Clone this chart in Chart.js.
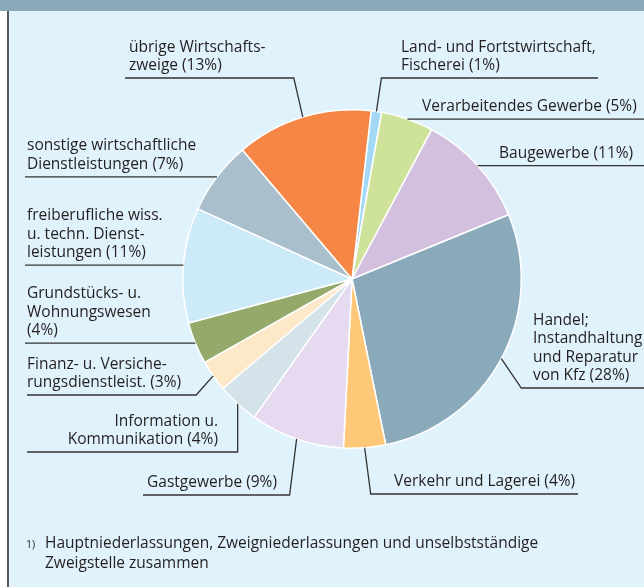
<!DOCTYPE html>
<html>
<head>
<meta charset="utf-8">
<script src="https://cdn.jsdelivr.net/npm/chart.js@4"></script>
<style>
  html, body { margin: 0; padding: 0; background: #fff; }
  #wrap { width: 644px; height: 587px; position: relative; }
</style>
</head>
<body>
<div id="wrap"><canvas id="pieChart" width="644" height="587"></canvas></div>
<script>
// data
const categories = [
  "Land- und Fortstwirtschaft,\nFischerei (1%)",
  "Verarbeitendes Gewerbe (5%)",
  "Baugewerbe (11%)",
  "Handel;\nInstandhaltung\nund Reparatur\nvon Kfz (28%)",
  "Verkehr und Lagerei (4%)",
  "Gastgewerbe (9%)",
  "Information u.\nKommunikation (4%)",
  "Finanz- u. Versiche-\nrungsdienstleist. (3%)",
  "Grundstücks- u.\nWohnungswesen\n(4%)",
  "freiberufliche wiss.\nu. techn. Dienst-\nleistungen (11%)",
  "sonstige wirtschaftliche\nDienstleistungen (7%)",
  "übrige Wirtschafts-\nzweige (13%)"
];
const shares = [1, 5, 11, 28, 4, 9, 4, 3, 4, 11, 7, 13];
const colors = [
  "#a3d9f5", "#cee29a", "#d3c0df", "#8aaabb", "#fec878", "#e5daef",
  "#d4e2ea", "#fde8c8", "#94a96a", "#cdeaf9", "#a9bfcc", "#f58646"
];
const footnote = [
  "Hauptniederlassungen, Zweigniederlassungen und unselbstständige",
  "Zweigstelle zusammen"
];

// label placement: elbow dx from slice edge, y of horizontal rule, rule end, text x
const labelPos = [
  { dx: 5,    y: 78,   x2: 598, tx: 401, align: "left" },
  { dx: null, y: null, x2: 644, tx: 422, align: "left" },
  { dx: null, y: null, x2: 644, tx: 499, align: "left" },
  { dx: 20,   y: 388,  x2: 644, tx: 533, align: "left" },
  { dx: 6,    y: 494,  x2: 578, tx: 394, align: "left" },
  { dx: -7,   y: 495,  x2: 143, tx: 147, align: "left" },
  { dx: 0,    y: 452,  x2: 27,  tx: 218, align: "right" },
  { dx: -17,  y: 395,  x2: 27,  tx: 27,  align: "left" },
  { dx: null, y: null, x2: 25,  tx: 27,  align: "left" },
  { dx: null, y: null, x2: 25,  tx: 27,  align: "left" },
  { dx: null, y: null, x2: 25,  tx: 27,  align: "left" },
  { dx: -9,   y: 78,   x2: 125, tx: 129, align: "left" }
];

const FONT = '15.5px "Open Sans", "Noto Sans", sans-serif';
const TEXT = "#231f20";

const frame = {
  id: "frame",
  beforeDraw(chart) {
    const c = chart.ctx;
    c.save();
    c.fillStyle = "#e0f2fc";
    c.fillRect(8, 0, chart.width - 8, chart.height);
    c.fillStyle = "#8aaabb";
    c.fillRect(0, 0, chart.width, 11);
    c.fillStyle = "#58595b";
    c.fillRect(7, 11, 2, chart.height - 11);
    c.restore();
  },
  afterDraw(chart) {
    const c = chart.ctx;
    const arcs = chart.getDatasetMeta(0).data;
    c.save();
    c.strokeStyle = "#333333";
    c.lineWidth = 1.3;
    c.font = FONT;
    c.fillStyle = TEXT;
    arcs.forEach((arc, i) => {
      const p = labelPos[i];
      const mid = (arc.startAngle + arc.endAngle) / 2;
      const ax = arc.x + Math.cos(mid) * arc.outerRadius;
      const ay = arc.y + Math.sin(mid) * arc.outerRadius;
      const ly = p.y == null ? ay : p.y;
      const ex = p.dx == null ? ax : ax + p.dx;
      c.beginPath();
      c.moveTo(ax, ay);
      c.lineTo(ex, ly);
      c.lineTo(p.x2, ly);
      c.stroke();
      const lines = categories[i].split("\n");
      c.textAlign = p.align;
      c.textBaseline = "alphabetic";
      lines.forEach((t, k) => {
        c.fillText(t, p.tx, ly - 8 - (lines.length - 1 - k) * 18.5);
      });
    });
    // footnote
    c.textAlign = "left";
    c.font = '10.5px "Open Sans", "Noto Sans", sans-serif';
    c.fillText("1)", 26, 548);
    c.font = FONT;
    footnote.forEach((t, k) => c.fillText(t, 45, 548 + k * 20));
    c.restore();
  }
};

new Chart(document.getElementById("pieChart"), {
  type: "pie",
  data: {
    labels: categories,
    datasets: [{
      data: shares,
      backgroundColor: colors,
      borderColor: "#ffffff",
      borderWidth: 1.5
    }]
  },
  options: {
    responsive: false,
    animation: false,
    rotation: 6.5,
    layout: { padding: { left: 182, right: 122, top: 109, bottom: 138 } },
    plugins: {
      legend: { display: false },
      tooltip: { enabled: false }
    }
  },
  plugins: [frame]
});
</script>
</body>
</html>
